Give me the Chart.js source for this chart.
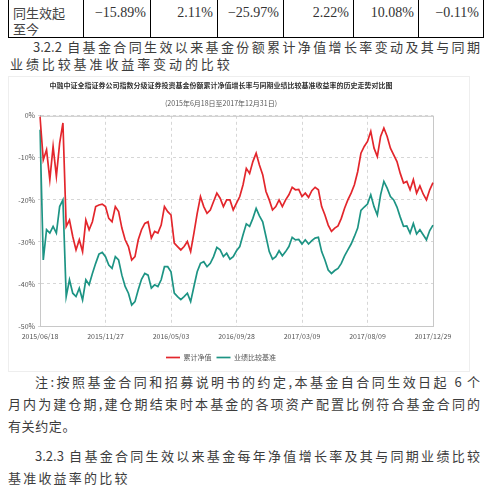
<!DOCTYPE html>
<html>
<head>
<meta charset="utf-8">
<script src="https://cdn.jsdelivr.net/npm/chart.js@4.4.1/dist/chart.umd.min.js"></script>
<style>
body { margin: 0; width: 484px; height: 491px; overflow: hidden; background: #fff; position: relative;
       font-family: "Noto Sans CJK SC", sans-serif; color: #3c3c3c; }
.t { position: absolute; font-size: 13px; line-height: 16px; white-space: nowrap; }
.j { text-align: justify; text-align-last: justify; white-space: normal; }
table { position: absolute; left: 8px; top: -13px; border-collapse: collapse; table-layout: fixed; color: #333; }
td { border: 1px solid #000; height: 46px; padding: 0 4px 0 0; vertical-align: top; font-size: 14px;
     font-family: "Liberation Serif", serif; text-align: right; line-height: 16px; }
td.h { font-family: "Noto Sans CJK SC", sans-serif; font-size: 13px; text-align: left; padding: 0 0 0 4px; color: #444; }
td div { padding-top: 17px; }
#box { position: absolute; left: 8px; top: 76px; width: 462px; height: 296px; border: 1px solid #eee; box-sizing: border-box; }
</style>
</head>
<body>
<table>
  <colgroup><col style="width:75px"><col style="width:67px"><col style="width:67px"><col style="width:66px"><col style="width:70px"><col style="width:65px"><col style="width:65px"></colgroup>
  <tr>
    <td class="h"><div>同生效起<br>至今</div></td>
    <td><div>−15.89%</div></td>
    <td><div>2.11%</div></td>
    <td><div>−25.97%</div></td>
    <td><div>2.22%</div></td>
    <td><div>10.08%</div></td>
    <td><div>−0.11%</div></td>
  </tr>
</table>

<div class="t j" style="left:33px;top:39px;width:447px">3.2.2 自基金合同生效以来基金份额累计净值增长率变动及其与同期</div>
<div class="t" style="left:10px;top:56px;letter-spacing:2.9px">业绩比较基准收益率变动的比较</div>

<div id="box"><canvas id="navChart" width="460" height="294"></canvas></div>

<div class="t j" style="left:35px;top:374px;width:445px">注:按照基金合同和招募说明书的约定,本基金自合同生效日起 6 个</div>
<div class="t j" style="left:8px;top:396px;width:472px">月内为建仓期,建仓期结束时本基金的各项资产配置比例符合基金合同的</div>
<div class="t" style="left:8px;top:418px;letter-spacing:0.6px">有关约定。</div>
<div class="t j" style="left:35px;top:448px;width:445px">3.2.3 自基金合同生效以来基金每年净值增长率及其与同期业绩比较</div>
<div class="t" style="left:8px;top:470px;letter-spacing:2.2px">基准收益率的比较</div>

<script>
const dates = ['2015/06/18', '2015/11/27', '2016/05/03', '2016/09/28', '2017/03/09', '2017/08/09', '2017/12/29'];

// 基金份额累计净值增长率 (%)
const fund = [
    -0.2, -10.5, -8.1, -15.2, -7.3, -14.4, -6.5, -1.7, -26.3, -24.8,
    -28.7, -31.9, -29.5, -32.3, -24.8, -27.1, -25.2, -21.6, -21.2, -21.0,
    -21.6, -24.4, -25.2, -21.6, -22.8, -26.7, -29.5, -31.1, -34.3, -33.5,
    -29.5, -27.1, -25.6, -25.2, -29.1, -27.5, -27.9, -26.0, -21.6, -22.8,
    -23.6, -30.3, -31.1, -31.9, -31.1, -29.9, -32.3, -27.9, -23.2, -19.2,
    -21.6, -23.2, -22.4, -20.4, -18.4, -19.6, -21.6, -20.0, -20.0, -22.4,
    -20.8, -19.2, -16.4, -12.5, -13.7, -10.9, -8.9, -11.7, -14.0, -18.0,
    -20.0, -22.4, -21.6, -20.0, -21.6, -20.0, -18.8, -17.0, -17.6, -17.5,
    -19.2, -18.4, -19.4, -17.8, -17.0, -17.6, -21.6, -23.6, -26.0, -27.5,
    -26.7, -26.2, -24.4, -22.0, -20.0, -18.4, -16.4, -13.3, -8.9, -7.3,
    -6.1, -3.7, -7.7, -9.7, -4.9, -2.9, -4.9, -7.7, -9.3, -10.9,
    -13.7, -16.0, -15.6, -17.6, -15.2, -18.4, -16.7, -18.6, -20.0, -17.6,
    -15.9
];

// 业绩比较基准收益率 (%)
const bench = [
    -3.3, -34.3, -27.1, -27.9, -26.3, -27.9, -21.6, -20.0, -43.0, -39.0,
    -42.2, -43.0, -41.0, -43.8, -39.0, -40.2, -37.5, -35.1, -32.9, -32.5,
    -33.5, -35.5, -36.3, -33.5, -34.3, -37.9, -40.6, -42.2, -45.0, -44.2,
    -41.4, -38.9, -37.5, -37.9, -41.0, -40.2, -40.6, -39.0, -35.9, -35.9,
    -37.1, -42.2, -43.0, -43.7, -43.0, -42.2, -44.2, -40.6, -37.1, -35.1,
    -34.7, -35.9, -35.1, -33.5, -31.3, -31.9, -33.5, -32.7, -34.1, -33.5,
    -32.1, -31.1, -28.3, -25.7, -26.3, -24.4, -22.0, -23.8, -25.2, -28.7,
    -32.3, -34.1, -33.5, -32.1, -33.3, -32.3, -31.1, -28.9, -29.5, -29.4,
    -30.5, -29.5, -30.5, -29.7, -29.1, -28.9, -32.3, -34.3, -36.7, -37.5,
    -36.8, -36.3, -35.1, -33.3, -31.9, -30.5, -28.7, -26.7, -22.5, -21.7,
    -21.0, -18.8, -21.6, -23.6, -18.8, -15.6, -17.2, -19.2, -20.0, -21.7,
    -24.1, -26.3, -26.2, -27.9, -25.6, -28.1, -27.1, -28.3, -29.5, -27.3,
    -26.0
];

const seriesNames = ['累计净值', '业绩比较基准'];
const yTicks = [0, -10, -20, -30, -40, -50];

const tickEvery = (fund.length - 1) / (dates.length - 1);

Chart.defaults.font.family = '"Noto Sans CJK SC", sans-serif';
Chart.defaults.color = '#555';

const framePlugin = {
    id: 'frame',
    beforeDatasetsDraw(chart) {
        const { ctx, chartArea: a } = chart;
        ctx.save();
        ctx.strokeStyle = '#c8c8c8';
        ctx.lineWidth = 1;
        ctx.strokeRect(a.left + 0.5, a.top + 0.5, a.right - a.left, a.bottom - a.top);
        ctx.restore();
    }
};

new Chart(document.getElementById('navChart'), {
    type: 'line',
    data: {
        labels: fund.map((_, i) => i),
        datasets: [{
            label: seriesNames[0],
            data: fund,
            borderColor: '#e3262c',
            backgroundColor: '#e3262c',
            borderWidth: 1.7,
            pointRadius: 0,
            tension: 0
        }, {
            label: seriesNames[1],
            data: bench,
            borderColor: '#1d9484',
            backgroundColor: '#1d9484',
            borderWidth: 1.7,
            pointRadius: 0,
            tension: 0
        }]
    },
    options: {
        responsive: false,
        animation: false,
        layout: { padding: { left: 0, right: 36, top: 0, bottom: 0 } },
        scales: {
            x: {
                ticks: {
                    autoSkip: false,
                    maxRotation: 0,
                    font: { size: 7 },
                    padding: 6,
                    callback: (v, i) => i % tickEvery === 0 ? dates[i / tickEvery] : null
                },
                grid: { color: '#d6d6d6', tickLength: 0 },
                border: { color: '#a8a8a8', dash: [3, 3] },
                afterFit: s => { s.height = 23; }
            },
            y: {
                min: yTicks[yTicks.length - 1],
                max: yTicks[0],
                ticks: {
                    stepSize: 10,
                    font: { size: 7 },
                    padding: 3,
                    callback: v => v + '%'
                },
                grid: { color: '#d6d6d6', tickLength: 2 },
                border: { color: '#a8a8a8', dash: [3, 3] },
                afterFit: s => { s.width = 31; }
            }
        },
        plugins: {
            title: {
                display: true,
                text: '中融中证全指证券公司指数分级证券投资基金份额累计净值增长率与同期业绩比较基准收益率的历史走势对比图',
                color: '#333',
                font: { size: 7, weight: 'bold' },
                padding: { top: 4, bottom: 8 }
            },
            subtitle: {
                display: true,
                text: '(2015年6月18日至2017年12月31日)',
                color: '#555',
                font: { size: 7 },
                padding: { top: 2, bottom: 8 }
            },
            legend: {
                position: 'bottom',
                labels: {
                    usePointStyle: true,
                    pointStyle: 'line',
                    pointStyleWidth: 14,
                    boxHeight: 7,
                    font: { size: 7 },
                    padding: 5
                }
            },
            tooltip: { enabled: false }
        }
    },
    plugins: [framePlugin]
});
</script>
</body>
</html>
